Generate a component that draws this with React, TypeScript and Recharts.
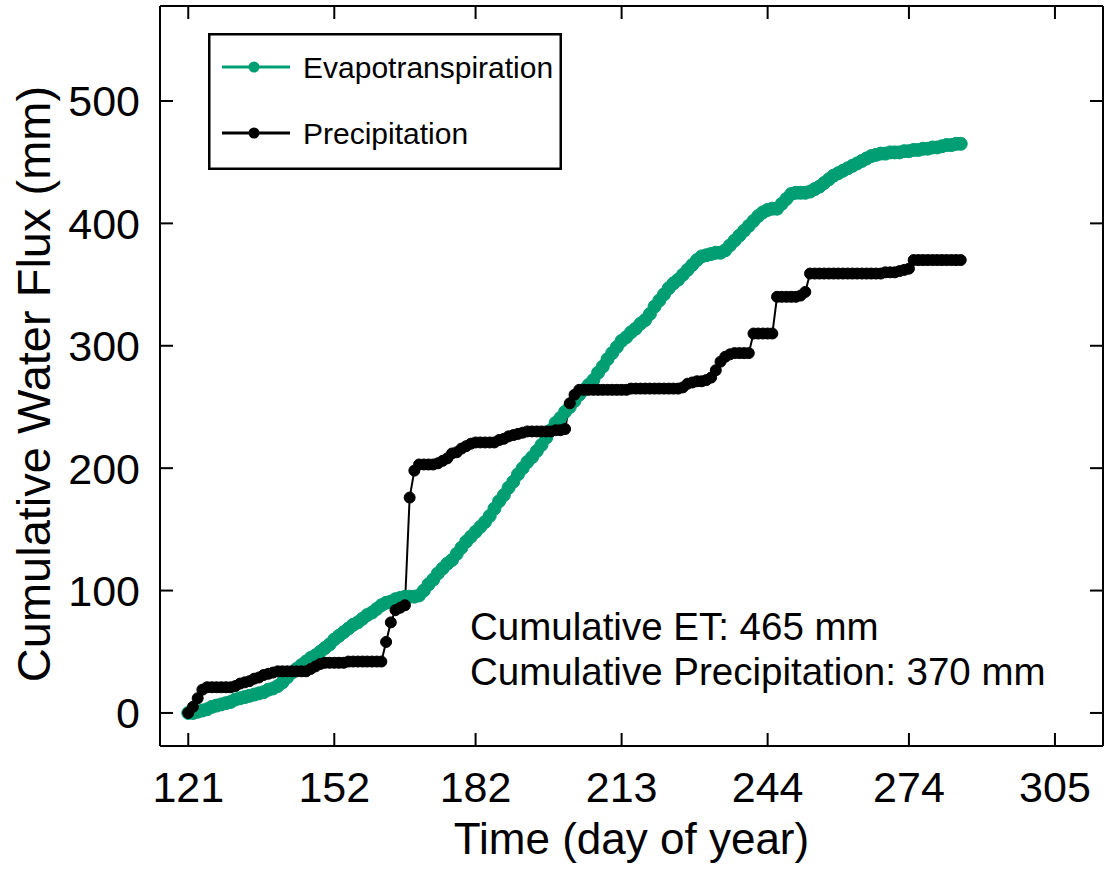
import React from 'react';
import { LineChart, Line, XAxis, YAxis, Legend } from 'recharts';

// daily cumulative values, day 121 .. 285
const firstDay = 121;

const etValues = [
  0, 0, 1, 2, 3, 5, 6, 7, 8, 9,
  11, 12, 13, 14, 15, 16, 17, 19, 20, 22,
  25, 29, 33, 36, 39, 42, 45, 47, 50, 53,
  56, 60, 63, 66, 69, 72, 74, 77, 80, 82,
  85, 88, 90, 91, 93, 94, 95, 95, 95, 96,
  100, 105, 109, 114, 118, 122, 125, 130, 135, 140,
  144, 148, 152, 156, 161, 167, 173, 178, 184, 189,
  195, 200, 205, 209, 214, 219, 225, 231, 237, 241,
  246, 250, 255, 260, 264, 268, 272, 278, 283, 289,
  294, 299, 304, 307, 311, 314, 318, 321, 326, 332,
  337, 342, 347, 351, 354, 358, 362, 366, 370, 373,
  374, 375, 376, 376, 378, 382, 386, 390, 394, 398,
  402, 406, 409, 411, 412, 412, 416, 420, 424, 425,
  425, 425, 426, 428, 430, 433, 436, 439, 441, 443,
  445, 447, 449, 451, 453, 455, 456, 457, 457, 458,
  458, 458, 459, 459, 460, 460, 461, 461, 462, 462,
  463, 464, 464, 465, 465,
];

const precipValues = [
  0, 5, 12, 19, 21, 21, 21, 21, 21, 21,
  22, 24, 25, 26, 28, 29, 31, 32, 33, 34,
  34, 34, 34, 34, 34, 34, 36, 38, 40, 41,
  41, 41, 41, 41, 42, 42, 42, 42, 42, 42,
  42, 42, 58, 74, 84, 86, 88, 176, 198, 203,
  203, 203, 203, 204, 206, 208, 212, 213, 216, 218,
  220, 221, 221, 221, 221, 221, 223, 224, 226, 227,
  228, 229, 230, 230, 230, 230, 230, 230, 231, 231,
  232, 253, 260, 264, 264, 264, 264, 264, 264, 264,
  264, 264, 264, 264, 265, 265, 265, 265, 265, 265,
  265, 265, 265, 265, 265, 266, 269, 270, 271, 271,
  272, 274, 280, 287, 291, 293, 294, 294, 294, 294,
  310, 310, 310, 310, 310, 340, 340, 340, 340, 340,
  341, 344, 359, 359, 359, 359, 359, 359, 359, 359,
  359, 359, 359, 359, 359, 359, 359, 359, 360, 360,
  360, 361, 362, 363, 370, 370, 370, 370, 370, 370,
  370, 370, 370, 370, 370,
];

const xTicks = [121, 152, 182, 213, 244, 274, 305];
const yTicks = [0, 100, 200, 300, 400, 500];
const summaryLines = ['Cumulative ET: 465 mm', 'Cumulative Precipitation: 370 mm'];

const data = etValues.map((et, i) => ({ day: firstDay + i, et, precip: precipValues[i] }));

const FONT = '"Liberation Sans", Arial, Helvetica, sans-serif';
const ET_COLOR = '#009E73';
const TICK_LEN = 13;

const BottomTick = (props: any) => {
  const { x, y, payload } = props;
  return (
    <g>
      <line x1={x} y1={y} x2={x} y2={y - TICK_LEN} stroke="#000" strokeWidth={2} />
      <text x={x} y={y + 56} textAnchor="middle" fontSize={43} fontFamily={FONT} fill="#000">
        {payload.value}
      </text>
    </g>
  );
};

const TopTick = (props: any) => {
  const { x, y } = props;
  return <line x1={x} y1={y} x2={x} y2={y + TICK_LEN} stroke="#000" strokeWidth={2} />;
};

const LeftTick = (props: any) => {
  const { x, y, payload } = props;
  return (
    <g>
      <line x1={x} y1={y} x2={x + TICK_LEN} y2={y} stroke="#000" strokeWidth={2} />
      <text x={x - 20} y={y + 15.5} textAnchor="end" fontSize={43} fontFamily={FONT} fill="#000">
        {payload.value}
      </text>
    </g>
  );
};

const RightTick = (props: any) => {
  const { x, y } = props;
  return <line x1={x} y1={y} x2={x - TICK_LEN} y2={y} stroke="#000" strokeWidth={2} />;
};

const LegendBox = (props: any) => {
  const items = props.payload || [];
  return (
    <svg width={354} height={137} style={{ display: 'block' }}>
      <rect x={1.25} y={1.25} width={351.5} height={134.5} fill="#fff" stroke="#000" strokeWidth={2.5} />
      {items.map((item: any, i: number) => {
        const cy = 34 + i * 66;
        return (
          <g key={item.value}>
            <line x1={14} y1={cy} x2={82} y2={cy} stroke={item.color} strokeWidth={3} />
            <circle cx={46} cy={cy} r={5.5} fill={item.color} />
            <text x={95} y={cy + 10.5} fontSize={30} fontFamily={FONT} fill="#000">
              {item.value}
            </text>
          </g>
        );
      })}
    </svg>
  );
};

const XTitle = (props: any) => {
  const { viewBox } = props;
  return (
    <text x={viewBox.x + viewBox.width / 2} y={854} textAnchor="middle" fontSize={44} fontFamily={FONT} fill="#000">
      Time (day of year)
    </text>
  );
};

const YTitle = () => (
  <text x={50} y={384} transform="rotate(-90 50 384)" textAnchor="middle" fontSize={47} fontFamily={FONT} fill="#000">
    Cumulative Water Flux (mm)
  </text>
);

export default function App() {
  return (
    <div style={{ position: 'absolute', left: 0, top: 0, background: '#fff' }}>
      <LineChart width={1109} height={872} data={data} margin={{ top: 0, right: 0, bottom: 0, left: 0 }}>
        <XAxis
          dataKey="day"
          type="number"
          domain={[115, 315.2]}
          allowDataOverflow
          ticks={xTicks}
          height={126}
          tickSize={0}
          tickMargin={0}
          tickLine={false}
          axisLine={{ stroke: '#000', strokeWidth: 2 }}
          tick={<BottomTick />}
          interval={0}
          label={<XTitle />}
        />
        <XAxis
          xAxisId="top"
          orientation="top"
          dataKey="day"
          type="number"
          domain={[115, 315.2]}
          allowDataOverflow
          ticks={xTicks}
          height={6}
          tickSize={0}
          tickMargin={0}
          tickLine={false}
          axisLine={{ stroke: '#000', strokeWidth: 2 }}
          tick={<TopTick />}
          interval={0}
        />
        <YAxis
          type="number"
          domain={[-27, 577.6]}
          allowDataOverflow
          ticks={yTicks}
          width={160}
          tickSize={0}
          tickMargin={0}
          tickLine={false}
          axisLine={{ stroke: '#000', strokeWidth: 2 }}
          tick={<LeftTick />}
          interval={0}
          label={<YTitle />}
        />
        <YAxis
          yAxisId="right"
          orientation="right"
          type="number"
          domain={[-27, 577.6]}
          allowDataOverflow
          ticks={yTicks}
          width={6}
          tickSize={0}
          tickMargin={0}
          tickLine={false}
          axisLine={{ stroke: '#000', strokeWidth: 2 }}
          tick={<RightTick />}
          interval={0}
        />
        <Legend
          layout="vertical"
          align="center"
          verticalAlign="middle"
          wrapperStyle={{ left: 208, top: 33, width: 354, height: 137 }}
          content={<LegendBox />}
        />
        <Line
          dataKey="et"
          name="Evapotranspiration"
          stroke={ET_COLOR}
          strokeWidth={2}
          dot={{ r: 6.5, fill: ET_COLOR, stroke: ET_COLOR, strokeWidth: 1 }}
          activeDot={false}
          isAnimationActive={false}
        />
        <Line
          dataKey="precip"
          name="Precipitation"
          stroke="#000"
          strokeWidth={2}
          dot={{ r: 5.5, fill: '#000', stroke: '#000', strokeWidth: 1 }}
          activeDot={false}
          isAnimationActive={false}
        />
        <g>
          {summaryLines.map((line, i) => (
            <text key={line} x={470} y={640 + i * 45} fontSize={38.5} fontFamily={FONT} fill="#000">
              {line}
            </text>
          ))}
        </g>
      </LineChart>
    </div>
  );
}
